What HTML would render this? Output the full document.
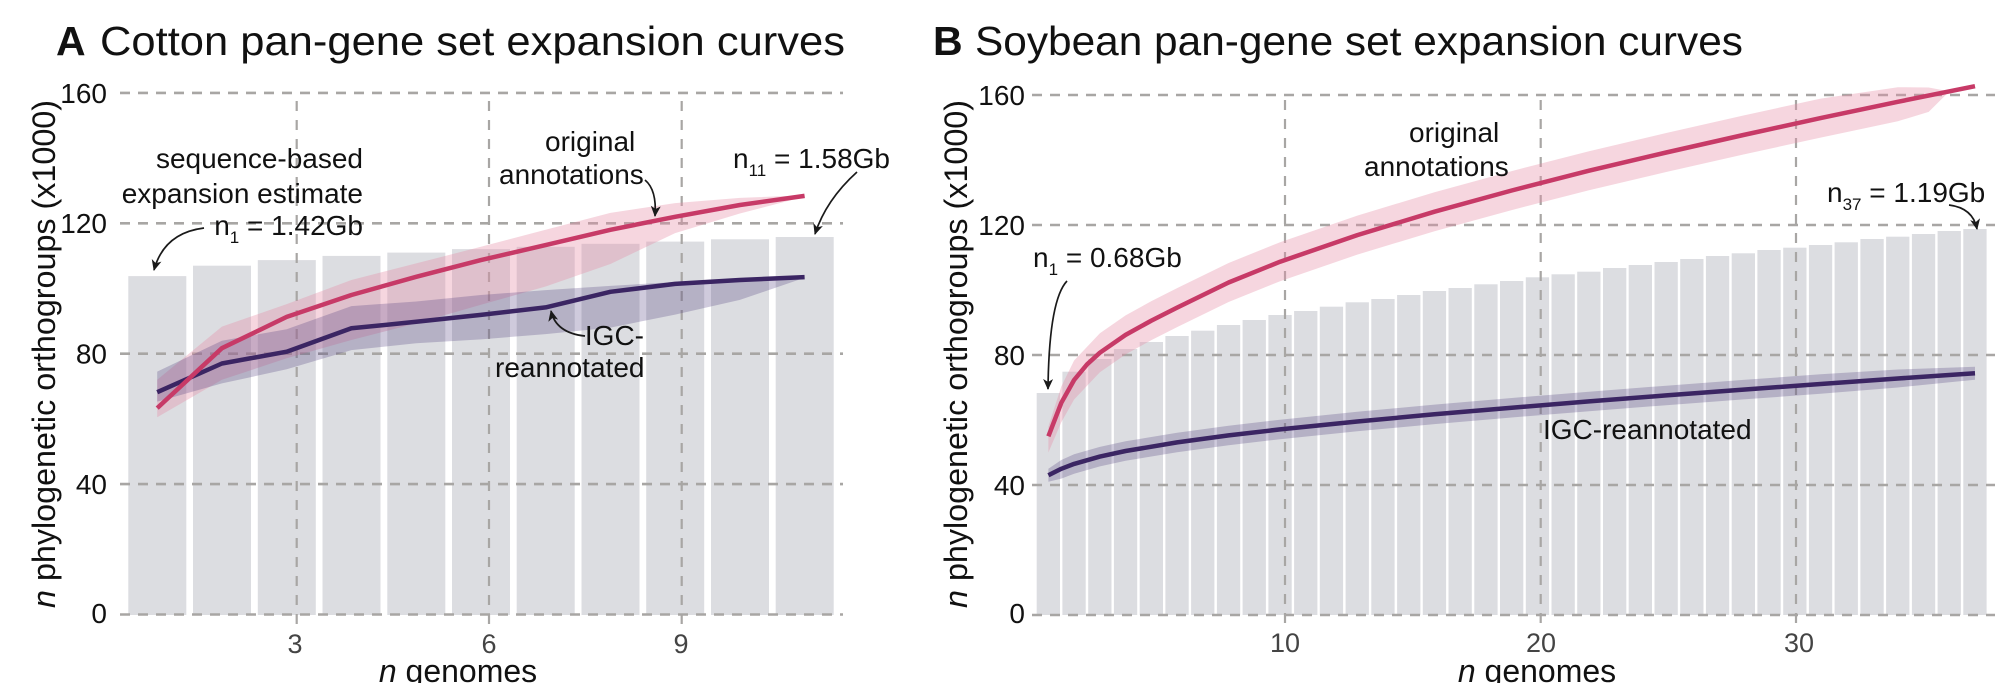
<!DOCTYPE html>
<html>
<head>
<meta charset="utf-8">
<style>
  html, body { margin: 0; padding: 0; background: #ffffff; }
  svg { display: block; }
  text { font-family: "Liberation Sans", Arial, sans-serif; fill: #111; }
</style>
</head>
<body>
<svg width="2000" height="683" viewBox="0 0 2000 683" xmlns="http://www.w3.org/2000/svg">
  <defs>
    <marker id="ah" markerUnits="userSpaceOnUse" markerWidth="14" markerHeight="12" refX="10" refY="5" orient="auto">
      <path d="M0,0 L11,5 L0,10 L3,5 z" fill="#1a1a1a"/>
    </marker>
  </defs>
  <rect x="0" y="0" width="2000" height="683" fill="#ffffff"/>

  <!-- ================= PANEL A ================= -->
  <!-- bars -->
  <g fill="#dcdde1">
    <rect x="128.3" y="276.1" width="58" height="338.9"/>
    <rect x="193.0" y="265.7" width="58" height="349.3"/>
    <rect x="257.8" y="260.1" width="58" height="354.9"/>
    <rect x="322.5" y="255.9" width="58" height="359.1"/>
    <rect x="387.3" y="252.6" width="58" height="362.4"/>
    <rect x="452.0" y="249.1" width="58" height="365.9"/>
    <rect x="516.7" y="246.8" width="58" height="368.2"/>
    <rect x="581.5" y="243.8" width="58" height="371.2"/>
    <rect x="646.2" y="241.6" width="58" height="373.4"/>
    <rect x="711.0" y="239.3" width="58" height="375.7"/>
    <rect x="775.7" y="237.0" width="58" height="378.0"/>
  </g>
  <!-- gridlines -->
  <g stroke="#a8a6a4" stroke-width="2.6" stroke-dasharray="10 8" fill="none">
    <line x1="120" y1="92.9" x2="843" y2="92.9"/>
    <line x1="120" y1="223.3" x2="843" y2="223.3"/>
    <line x1="120" y1="353.7" x2="843" y2="353.7"/>
    <line x1="120" y1="484.1" x2="843" y2="484.1"/>
    <line x1="120" y1="614.5" x2="843" y2="614.5"/>
  </g>
  <g stroke="#a8a6a4" stroke-width="2.2" stroke-dasharray="10 9" fill="none">
    <line x1="296.7" y1="101" x2="296.7" y2="626"/>
    <line x1="489" y1="101" x2="489" y2="626"/>
    <line x1="681.7" y1="101" x2="681.7" y2="626"/>
  </g>
  <!-- bands -->
  <polygon fill="rgba(230,140,165,0.36)" points="157.2,379.8 221.9,326.6 286.7,304.1 351.4,280.0 416.2,263.4 480.9,246.8 545.6,229.8 610.4,212.9 675.1,203.1 739.9,197.9 804.6,195.3 804.6,196.6 739.9,213.5 675.1,233.1 610.4,264.0 545.6,286.5 480.9,304.8 416.2,323.4 351.4,340.0 286.7,358.3 221.9,379.8 157.2,417.3"/>
  <polygon fill="rgba(70,50,120,0.26)" points="157.2,371.6 221.9,340.7 286.7,329.2 351.4,306.1 416.2,301.5 480.9,295.0 545.6,290.1 610.4,285.9 675.1,282.0 739.9,278.7 804.6,276.8 804.6,277.7 739.9,299.9 675.1,314.6 610.4,327.6 545.6,334.1 480.9,339.4 416.2,343.3 351.4,350.1 286.7,369.3 221.9,383.4 157.2,401.6"/>
  <!-- lines -->
  <polyline fill="none" stroke="#3b2563" stroke-width="4.5" stroke-linejoin="round" points="157.2,392.2 221.9,363.5 286.7,351.7 351.4,328.3 416.2,321.8 480.9,314.9 545.6,307.4 610.4,291.8 675.1,283.9 739.9,280.0 804.6,277.1"/>
  <polyline fill="none" stroke="#c73a67" stroke-width="4.5" stroke-linejoin="round" points="157.2,408.1 221.9,348.2 286.7,316.9 351.4,295.0 416.2,276.8 480.9,260.1 545.6,245.1 610.4,229.8 675.1,216.8 739.9,205.0 804.6,195.9"/>

  <!-- title A -->
  <text x="56" y="55" font-size="41" font-weight="bold">A</text>
  <text x="100" y="55" font-size="41" textLength="745" lengthAdjust="spacingAndGlyphs">Cotton pan-gene set expansion curves</text>

  <!-- y tick labels A -->
  <g font-size="28" text-anchor="end" fill="#222">
    <text x="107" y="103">160</text>
    <text x="107" y="233">120</text>
    <text x="107" y="363.5">80</text>
    <text x="107" y="494">40</text>
    <text x="107" y="623">0</text>
  </g>
  <!-- x tick labels A -->
  <g font-size="27" text-anchor="middle">
    <text x="295" y="653" style="fill:#444">3</text>
    <text x="489" y="653" style="fill:#444">6</text>
    <text x="681" y="653" style="fill:#444">9</text>
  </g>
  <!-- axis titles A -->
  <text x="458" y="682" font-size="32" text-anchor="middle"><tspan font-style="italic">n</tspan> genomes</text>
  <text transform="translate(55,354) rotate(-90)" font-size="32" text-anchor="middle" textLength="508" lengthAdjust="spacingAndGlyphs"><tspan font-style="italic">n</tspan> phylogenetic orthogroups (x1000)</text>

  <!-- annotations A -->
  <g font-size="28">
    <text x="363" y="168" text-anchor="end">sequence-based</text>
    <text x="363" y="203" text-anchor="end">expansion estimate</text>
    <text x="363" y="235" text-anchor="end">n<tspan font-size="17" dy="8">1</tspan><tspan dy="-8"> = 1.42Gb</tspan></text>
    <text x="545" y="151">original</text>
    <text x="499" y="184">annotations</text>
    <text x="733" y="168">n<tspan font-size="17" dy="8">11</tspan><tspan dy="-8"> = 1.58Gb</tspan></text>
    <text x="644" y="345" text-anchor="end">IGC-</text>
    <text x="495" y="377">reannotated</text>
  </g>
  <g fill="none" stroke="#1a1a1a" stroke-width="1.7" marker-end="url(#ah)">
    <path d="M204,228 Q164,233 154,270"/>
    <path d="M645,180 Q657,190 655,216"/>
    <path d="M857,172 Q826,200 815,234"/>
    <path d="M585,336 Q556,333 551,311"/>
  </g>

  <!-- ================= PANEL B ================= -->
  <g fill="#dcdde1">
    <rect x="1036.7" y="393.0" width="23.3" height="222"/>
    <rect x="1062.4" y="371.7" width="23.3" height="243.3"/>
    <rect x="1088.2" y="359.0" width="23.3" height="256"/>
    <rect x="1113.9" y="349.0" width="23.3" height="266"/>
    <rect x="1139.7" y="342.0" width="23.3" height="273"/>
    <rect x="1165.4" y="336.0" width="23.3" height="279"/>
    <rect x="1191.1" y="330.7" width="23.3" height="284.3"/>
    <rect x="1216.9" y="325.0" width="23.3" height="290"/>
    <rect x="1242.6" y="320.0" width="23.3" height="295"/>
    <rect x="1268.4" y="315.0" width="23.3" height="300"/>
    <rect x="1294.1" y="311.0" width="23.3" height="304"/>
    <rect x="1319.8" y="306.7" width="23.3" height="308.3"/>
    <rect x="1345.6" y="302.3" width="23.3" height="312.7"/>
    <rect x="1371.3" y="299.0" width="23.3" height="316"/>
    <rect x="1397.1" y="295.0" width="23.3" height="320"/>
    <rect x="1422.8" y="291.0" width="23.3" height="324"/>
    <rect x="1448.5" y="288.0" width="23.3" height="327"/>
    <rect x="1474.3" y="284.3" width="23.3" height="330.7"/>
    <rect x="1500.0" y="281.0" width="23.3" height="334"/>
    <rect x="1525.8" y="277.3" width="23.3" height="337.7"/>
    <rect x="1551.5" y="274.3" width="23.3" height="340.7"/>
    <rect x="1577.2" y="271.7" width="23.3" height="343.3"/>
    <rect x="1603.0" y="268.0" width="23.3" height="347"/>
    <rect x="1628.7" y="265.0" width="23.3" height="350"/>
    <rect x="1654.5" y="262.0" width="23.3" height="353"/>
    <rect x="1680.2" y="259.0" width="23.3" height="356"/>
    <rect x="1705.9" y="256.0" width="23.3" height="359"/>
    <rect x="1731.7" y="253.3" width="23.3" height="361.7"/>
    <rect x="1757.4" y="250.0" width="23.3" height="365"/>
    <rect x="1783.2" y="247.7" width="23.3" height="367.3"/>
    <rect x="1808.9" y="245.0" width="23.3" height="370"/>
    <rect x="1834.6" y="242.3" width="23.3" height="372.7"/>
    <rect x="1860.4" y="239.0" width="23.3" height="376"/>
    <rect x="1886.1" y="236.7" width="23.3" height="378.3"/>
    <rect x="1911.9" y="234.0" width="23.3" height="381"/>
    <rect x="1937.6" y="231.0" width="23.3" height="384"/>
    <rect x="1963.3" y="229.0" width="23.3" height="386"/>
  </g>
  <g stroke="#a8a6a4" stroke-width="2.6" stroke-dasharray="10 8" fill="none">
    <line x1="1032" y1="95" x2="1995" y2="95"/>
    <line x1="1032" y1="225" x2="1995" y2="225"/>
    <line x1="1032" y1="355" x2="1995" y2="355"/>
    <line x1="1032" y1="485" x2="1995" y2="485"/>
    <line x1="1032" y1="615" x2="1995" y2="615"/>
  </g>
  <g stroke="#a8a6a4" stroke-width="2.2" stroke-dasharray="10 9" fill="none">
    <line x1="1285" y1="100" x2="1285" y2="626"/>
    <line x1="1540.7" y1="100" x2="1540.7" y2="626"/>
    <line x1="1796" y1="100" x2="1796" y2="626"/>
  </g>
  <!-- bands B -->
  <polygon fill="rgba(230,140,165,0.36)" points="1048.4,426.5 1061.3,386.5 1074.1,360.5 1099.9,333.2 1125.6,315.4 1151.4,301.1 1177.1,288.1 1228.6,263.0 1280.1,242.2 1357.3,215.6 1434.5,192.2 1511.7,171.1 1589.0,151.2 1666.2,133.0 1743.4,115.5 1820.6,98.6 1897.8,87.2 1928.7,87.5 1949.3,91.4 1928.7,111.9 1897.8,121.3 1820.6,137.6 1743.4,154.5 1666.2,172.0 1589.0,190.2 1511.7,210.1 1434.5,231.2 1357.3,254.6 1280.1,281.2 1228.6,302.0 1177.1,327.1 1151.4,340.1 1125.6,354.4 1099.9,372.2 1074.1,399.5 1061.3,422.3 1048.4,452.5"/>
  <polygon fill="rgba(70,50,120,0.26)" points="1048.4,468.8 1061.3,460.0 1074.1,454.2 1099.9,446.9 1125.6,441.3 1177.1,432.7 1228.6,425.7 1280.1,419.7 1357.3,411.8 1434.5,404.6 1511.7,398.0 1589.0,391.7 1666.2,385.7 1743.4,379.9 1820.6,374.3 1897.8,369.5 1975.0,366.7 1975.0,379.7 1897.8,387.5 1820.6,393.8 1743.4,399.4 1666.2,405.2 1589.0,411.2 1511.7,417.5 1434.5,424.1 1357.3,431.3 1280.1,439.2 1228.6,445.2 1177.1,452.2 1125.6,460.8 1099.9,466.4 1074.1,473.7 1061.3,478.6 1048.4,481.8"/>
  <polyline fill="none" stroke="#3b2563" stroke-width="4.5" stroke-linejoin="round" points="1048.4,475.3 1061.3,468.8 1074.1,463.9 1099.9,456.6 1125.6,451.0 1177.1,442.4 1228.6,435.4 1280.1,429.4 1357.3,421.5 1434.5,414.3 1511.7,407.7 1589.0,401.4 1666.2,395.4 1743.4,389.6 1820.6,384.0 1897.8,378.5 1975.0,373.2"/>
  <polyline fill="none" stroke="#c73a67" stroke-width="4.5" stroke-linejoin="round" points="1048.4,436.3 1061.3,402.8 1074.1,380.0 1087.0,364.4 1099.9,352.7 1125.6,334.9 1151.4,320.6 1177.1,307.6 1228.6,282.5 1280.1,261.7 1357.3,235.1 1434.5,211.7 1511.7,190.5 1589.0,170.7 1666.2,152.5 1743.4,135.0 1820.6,118.1 1897.8,101.8 1975.0,86.2"/>

  <!-- title B -->
  <text x="933" y="55" font-size="41" font-weight="bold">B</text>
  <text x="975" y="55" font-size="41" textLength="768" lengthAdjust="spacingAndGlyphs">Soybean pan-gene set expansion curves</text>

  <g font-size="28" text-anchor="end" fill="#222">
    <text x="1025" y="105">160</text>
    <text x="1025" y="235">120</text>
    <text x="1025" y="365">80</text>
    <text x="1025" y="495">40</text>
    <text x="1025" y="623">0</text>
  </g>
  <g font-size="27" text-anchor="middle">
    <text x="1285" y="652" style="fill:#444">10</text>
    <text x="1541" y="652" style="fill:#444">20</text>
    <text x="1799" y="652" style="fill:#444">30</text>
  </g>
  <text x="1537" y="682" font-size="32" text-anchor="middle"><tspan font-style="italic">n</tspan> genomes</text>
  <text transform="translate(967,354) rotate(-90)" font-size="32" text-anchor="middle" textLength="508" lengthAdjust="spacingAndGlyphs"><tspan font-style="italic">n</tspan> phylogenetic orthogroups (x1000)</text>

  <g font-size="28">
    <text x="1409" y="142">original</text>
    <text x="1364" y="176">annotations</text>
    <text x="1033" y="267">n<tspan font-size="17" dy="8">1</tspan><tspan dy="-8"> = 0.68Gb</tspan></text>
    <text x="1827" y="202">n<tspan font-size="17" dy="8">37</tspan><tspan dy="-8"> = 1.19Gb</tspan></text>
    <text x="1543" y="439">IGC-reannotated</text>
  </g>
  <g fill="none" stroke="#1a1a1a" stroke-width="1.7" marker-end="url(#ah)">
    <path d="M1067,281 Q1049,300 1048,389"/>
    <path d="M1949,205 Q1973,208 1977,229"/>
  </g>
</svg>
</body>
</html>
